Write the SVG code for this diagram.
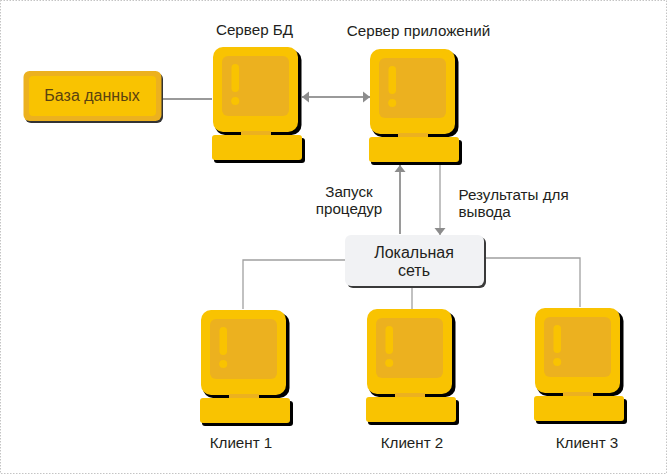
<svg xmlns="http://www.w3.org/2000/svg" width="667" height="474" viewBox="0 0 667 474">
<style>
text{font-family:"Liberation Sans",Arial,sans-serif;font-size:15.200px;fill:#231f20;text-anchor:middle}
.l{text-anchor:start}
.c{fill:none;stroke:#a0a0a0;stroke-width:1.3}
.c2{fill:none;stroke:#9a9a9a;stroke-width:2}
.y{fill:#f9c301}.o{fill:#ecb11f}.k{fill:#000}
</style>
<defs>
<marker id="ah" markerUnits="userSpaceOnUse" markerWidth="8" markerHeight="12" refX="7" refY="6" orient="auto-start-reverse"><path d="M0 0.500L7 6L0 11.500Z" fill="#8c8c8c"/></marker>
<g id="pc">
<rect x="215" y="50" width="86.500" height="85" rx="10" class="k"/>
<rect x="214" y="138" width="91" height="25" rx="3" class="k"/>
<rect x="213" y="47" width="85" height="85" rx="10" class="y"/>
<rect x="222" y="56" width="67" height="60" rx="6" class="o"/>
<rect x="231.500" y="64" width="7.500" height="28" rx="3.700" class="y"/>
<circle cx="235.200" cy="101" r="4" class="y"/>
<rect x="241" y="131" width="30" height="5" class="o"/>
<rect x="212" y="135" width="90" height="25" rx="3" class="y"/>
</g>
</defs>
<rect x="0.500" y="0.500" width="666" height="473" fill="#fff" stroke="#c4c4c4" stroke-dasharray="1.500 1.500"/>
<g id="connectors">
<path class="c2" d="M163 99H212"/>
<path class="c2" d="M302 97H370" marker-start="url(#ah)" marker-end="url(#ah)"/>
<path class="c2" d="M400 234V165" marker-end="url(#ah)"/>
<path class="c" d="M440 165V235" marker-end="url(#ah)"/>
<path class="c" d="M345 260H243V309"/>
<path class="c" d="M412 287V309"/>
<path class="c" d="M485 258H580V307"/>
</g>
<g id="db">
<rect x="25" y="73" width="138" height="50" rx="6" fill="#333"/>
<rect x="23.500" y="71" width="138" height="50" rx="6" class="o"/>
<rect x="29" y="76" width="127" height="40" rx="4" class="y"/>
<text x="92" y="101" style="font-size:16px;fill:#5a4210">База данных</text>
</g>
<g id="db-server"><use href="#pc"/><text x="254.500" y="35">Сервер БД</text></g>
<g id="app-server"><use href="#pc" x="157" y="2"/><text x="418.500" y="36">Сервер приложений</text></g>
<g id="network">
<rect x="347" y="237" width="139" height="51" rx="6" fill="#3a3a3a"/>
<rect x="345" y="235" width="139" height="51" rx="6" fill="#f1f2f4"/>
<text x="414" y="258" style="font-size:16px">Локальная</text>
<text x="414" y="276" style="font-size:16px">сеть</text>
</g>
<g id="label-run"><text x="349" y="197">Запуск</text><text x="349" y="214">процедур</text></g>
<g id="label-results"><text class="l" x="458.500" y="200">Результаты для</text><text class="l" x="458.500" y="217">вывода</text></g>
<g id="client1"><use href="#pc" x="-12" y="263"/><text x="241" y="448">Клиент 1</text></g>
<g id="client2"><use href="#pc" x="154" y="262"/><text x="412" y="448">Клиент 2</text></g>
<g id="client3"><use href="#pc" x="322" y="261"/><text x="587" y="448">Клиент 3</text></g>
</svg>
